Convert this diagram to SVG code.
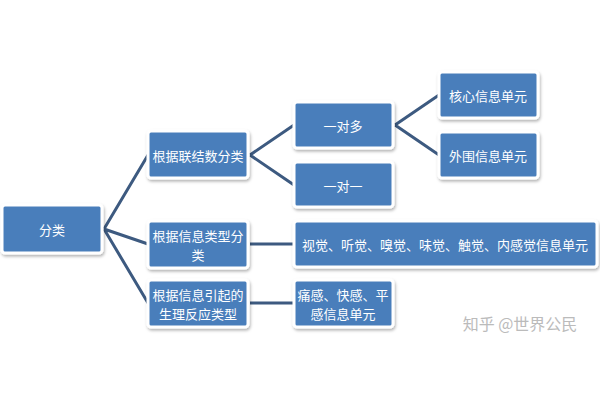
<svg xmlns="http://www.w3.org/2000/svg" width="600" height="400" viewBox="0 0 600 400">
<defs>
<filter id="sh" x="-10%" y="-10%" width="130%" height="140%"><feDropShadow dx="1" dy="2" stdDeviation="1.5" flood-color="#000" flood-opacity="0.3"/></filter>
<style>
.n rect{fill:#4a7ebb;stroke:#fff;stroke-width:3;filter:url(#sh)}
.n text{fill:#fff;font-family:"Noto Sans CJK SC",sans-serif;font-size:13px;text-anchor:middle;dominant-baseline:central}
.c path{stroke:#3d5a80;stroke-width:3;fill:none}
</style>
</defs>
<rect width="600" height="400" fill="#fff"/>
<g class="c">
<path d="M104 229 L148 155 M104 229 L148 244 M104 229 L148 303"/>
<path d="M250 155 L294 125 M250 155 L294 185"/>
<path d="M395 125 L439 95 M395 125 L439 155"/>
<path d="M250 244 L294 244 M250 303 L294 303"/>
</g>
<g id="root" class="n"><rect x="2" y="205" width="100" height="48" rx="3"/><text x="52" y="229">分类</text></g>
<g id="a" class="n"><rect x="148" y="131" width="100" height="47" rx="3"/><text x="198" y="155">根据联结数分类</text></g>
<g id="b" class="n"><rect x="148" y="221" width="100" height="47" rx="3"/><text x="198" y="235">根据信息类型分</text><text x="198" y="254">类</text></g>
<g id="c" class="n"><rect x="148" y="280" width="100" height="47" rx="3"/><text x="198" y="294">根据信息引起的</text><text x="198" y="313">生理反应类型</text></g>
<g id="a1" class="n"><rect x="294" y="102" width="99" height="46" rx="3"/><text x="343" y="125">一对多</text></g>
<g id="a2" class="n"><rect x="294" y="162" width="99" height="45" rx="3"/><text x="343" y="185">一对一</text></g>
<g id="a11" class="n"><rect x="439" y="72" width="99" height="46" rx="3"/><text x="488" y="95">核心信息单元</text></g>
<g id="a12" class="n"><rect x="439" y="132" width="99" height="46" rx="3"/><text x="488" y="155">外围信息单元</text></g>
<g id="b1" class="n"><rect x="294" y="221" width="303" height="46" rx="3"/><text x="445" y="244">视觉、听觉、嗅觉、味觉、触觉、内感觉信息单元</text></g>
<g id="c1" class="n"><rect x="294" y="280" width="99" height="47" rx="3"/><text x="343" y="294">痛感、快感、平</text><text x="343" y="313">感信息单元</text></g>
<text x="520" y="330" font-family="Noto Sans CJK SC,sans-serif" font-size="16" fill="#bbb" text-anchor="middle">知乎 @世界公民</text>
</svg>
